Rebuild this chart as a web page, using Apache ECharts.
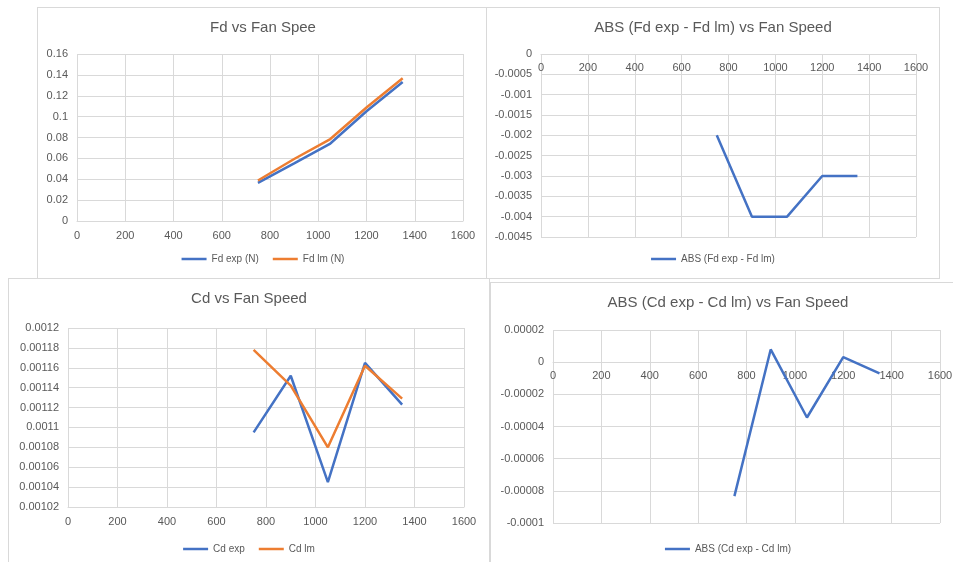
<!DOCTYPE html>
<html><head><meta charset="utf-8">
<script src="https://cdn.jsdelivr.net/npm/echarts@6/dist/echarts.min.js"></script>
<style>
html,body{margin:0;padding:0;background:#fff;width:953px;height:562px;overflow:hidden;position:relative;}
.c{position:absolute;background:#fff;border:1px solid #d9d9d9;box-sizing:border-box;}
</style></head><body>
<div id="c1" class="c" style="left:37px;top:7px;width:452px;height:272px;z-index:1"></div>
<div id="c2" class="c" style="left:486px;top:7px;width:454px;height:272px;z-index:2"></div>
<div id="c3" class="c" style="left:8px;top:278px;width:482px;height:295px;z-index:3"></div>
<div id="c4" class="c" style="left:490px;top:282px;width:476px;height:290px;z-index:4"></div>
<script>
const fanSpeed = [750, 900, 1050, 1200, 1350];
const fdExp = [0.0366, 0.0552, 0.0742, 0.1052, 0.1332];
const fdLm = [0.0388, 0.0594, 0.0785, 0.1088, 0.1368];
const fdDiff = [-0.002, -0.004, -0.004, -0.003, -0.003];
const cdExp = [0.001095, 0.001152, 0.001045, 0.001165, 0.001123];
const cdLm = [0.001178, 0.001142, 0.00108, 0.001162, 0.001129];
const cdDiff = [-0.0000833, 0.0000079, -0.0000344, 0.0000031, -0.000007];
const xTicks = {min: 0, max: 1600, interval: 200};

const FONT = 'Liberation Sans';
const TXT = '#595959';
const GRIDC = '#d9d9d9';
const BLUE = '#4472C4', ORANGE = '#ED7D31';

function pairs(ys){ return fanSpeed.map((x,i)=>[x, ys[i]]); }
function fmt(v){ return String(parseFloat(v.toFixed(7))); }

function make(id, cfg){
  const el = document.getElementById(id);
  const ch = echarts.init(el, null, {renderer:'canvas'});
  // x axis sits where y = 0 (Excel crossing); for charts whose y range is not [0, ...]
  // place it at top with an offset derived from the y range proportion.
  let xPos = 'bottom', xOffset = 0, inside = false;
  if (cfg.yMin < 0) {
    xPos = 'top'; inside = true;
    xOffset = -cfg.grid.height * (cfg.yMax - 0) / (cfg.yMax - cfg.yMin);
  }
  ch.setOption({
    animation:false,
    backgroundColor:'#fff',
    textStyle:{fontFamily:FONT},
    title:{text:cfg.title, left:'center', top:12, padding:0,
      textStyle:{fontFamily:FONT, fontSize:15, fontWeight:'normal', color:TXT}},
    legend:{left:'center', top:cfg.legendTop, itemWidth:25, itemHeight:2.5, itemGap:14,
      icon:'rect',
      textStyle:{fontFamily:FONT, fontSize:10, color:TXT},
      data:cfg.series.map(s=>({name:s.name, icon:'rect', itemStyle:{color:s.color}}))},
    grid:cfg.grid,
    xAxis:{type:'value', min:xTicks.min, max:xTicks.max, interval:xTicks.interval,
      position:xPos, offset:xOffset,
      axisLine:{show:true, onZero:false, lineStyle:{color:GRIDC, width:1}},
      axisTick:{show:false},
      axisLabel:{color:TXT, fontSize:11, fontFamily:FONT, margin:inside ? 8 : 9, inside:inside,
        showMinLabel:true, showMaxLabel:true, formatter:v=>String(v)},
      splitLine:{show:true, lineStyle:{color:GRIDC, width:1}}},
    yAxis:{type:'value', min:cfg.yMin, max:cfg.yMax, interval:cfg.yInt,
      axisLine:{show:false, onZero:false}, axisTick:{show:false},
      axisLabel:{color:TXT, fontSize:11, fontFamily:FONT, margin:9, formatter:fmt},
      splitLine:{show:true, lineStyle:{color:GRIDC, width:1}}},
    series:cfg.series.map(s=>({
      name:s.name, type:'line', data:pairs(s.data), symbol:'none', showSymbol:false,
      lineStyle:{color:s.color, width:2.5}, itemStyle:{color:s.color}
    }))
  });
}

make('c1', {title:'Fd vs Fan Spee', legendTop:241,
  grid:{left:39, top:46, width:386, height:167},
  yMin:0, yMax:0.16, yInt:0.02,
  series:[{name:'Fd exp (N)', data:fdExp, color:BLUE},{name:'Fd lm (N)', data:fdLm, color:ORANGE}]});
make('c2', {title:'ABS (Fd exp - Fd lm) vs Fan Speed', legendTop:241,
  grid:{left:54, top:46, width:375, height:183},
  yMin:-0.0045, yMax:0, yInt:0.0005,
  series:[{name:'ABS (Fd exp - Fd lm)', data:fdDiff, color:BLUE}]});
make('c3', {title:'Cd vs Fan Speed', legendTop:260,
  grid:{left:59, top:49, width:396, height:179},
  yMin:0.00102, yMax:0.0012, yInt:0.00002,
  series:[{name:'Cd exp', data:cdExp, color:BLUE},{name:'Cd lm', data:cdLm, color:ORANGE}]});
make('c4', {title:'ABS (Cd exp - Cd lm) vs Fan Speed', legendTop:256,
  grid:{left:62, top:47, width:387, height:193},
  yMin:-0.0001, yMax:0.00002, yInt:0.00002,
  series:[{name:'ABS (Cd exp - Cd lm)', data:cdDiff, color:BLUE}]});
</script>
</body></html>
